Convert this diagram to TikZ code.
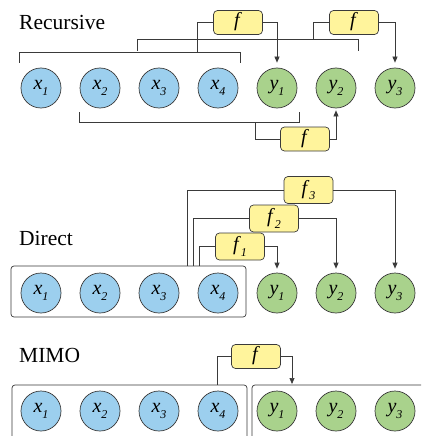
\documentclass[tikz,border=0pt]{standalone}
\usepackage{fontspec}
\setmainfont{Liberation Serif}
\usetikzlibrary{arrows.meta}
\definecolor{cblue}{HTML}{9CCFEE}
\definecolor{cgreen}{HTML}{A9D28C}
\definecolor{cyellow}{HTML}{FFF49C}
\definecolor{cline}{HTML}{3A3A3A}
\newcommand\clab[2]{\fontsize{20}{20}\selectfont\textit{#1}\raisebox{-0.6ex}{\fontsize{12}{12}\selectfont\textit{#2}}}
\newcommand\flab[1]{\fontsize{20}{20}\selectfont\textit{f}\raisebox{-0.6ex}{\fontsize{12}{12}\selectfont\textit{#1}}}
\begin{document}
\begin{tikzpicture}[x=1pt,y=-1pt,
  xin/.style={circle,draw=cline,line width=0.7pt,fill=cblue,minimum size=40pt,inner sep=0pt},
  yout/.style={circle,draw=cline,line width=0.7pt,fill=cgreen,minimum size=40pt,inner sep=0pt},
  fbox/.style={rectangle,rounded corners=4pt,draw=cline,line width=0.7pt,fill=cyellow,minimum width=49pt,minimum height=24pt,inner sep=0pt},
  fboxd/.style={fbox,minimum height=27pt},
  conn/.style={draw=cline,line width=0.7pt},
  arr/.style={conn,-{Triangle[length=6pt,width=5pt]}},
  title/.style={anchor=west,inner sep=0pt,font=\fontsize{21.5}{21.5}\selectfont},
  grp/.style={draw=cline,line width=0.7pt,rounded corners=3pt}]
\clip (0,0) rectangle (421,436);
% ---------- Recursive ----------
\node[title] (tr) at (19,22) {Recursive};
\foreach \i/\xx in {1/41,2/100,3/159,4/218}{\node[xin] (rx\i) at (\xx,88) {\clab{x}{\i}};}
\foreach \i/\xx in {1/277,2/336,3/395}{\node[yout] (ry\i) at (\xx,88) {\clab{y}{\i}};}
\node[fbox] (rfa) at (238,22.5) {\flab{}};
\node[fbox] (rfb) at (354,22.5) {\flab{}};
\node[fbox] (rfc) at (305,139) {\flab{}};
% bracket 1
\coordinate (b1a) at (19,63); \coordinate (b1b) at (240,63); \coordinate (b1m) at (197,52);
\draw[conn] (b1a) -- (19,52) -- (240,52) -- (b1b);
\draw[conn] (b1m) |- (rfa.west);
\draw[arr] (rfa.east) -| ([yshift=5pt]ry1.north);
% bracket 2
\coordinate (b2a) at (137,51); \coordinate (b2b) at (358,51); \coordinate (b2m) at (313,39);
\draw[conn] (b2a) -- (137,39) -- (358,39) -- (b2b);
\draw[conn] (b2m) |- (rfb.west);
\draw[arr] (rfb.east) -| ([yshift=5pt]ry3.north);
% bracket 3
\coordinate (b3a) at (79,112); \coordinate (b3b) at (299,112); \coordinate (b3m) at (255,122);
\draw[conn] (b3a) -- (79,122) -- (299,122) -- (b3b);
\draw[conn] (b3m) |- (rfc.west);
\draw[arr] (rfc.east) -| ([yshift=-2pt]ry2.south);
% ---------- Direct ----------
\node[title] (td) at (19,238) {Direct};
\draw[grp] (11,266) rectangle (246,317);
\coordinate (dtop3) at (187,266); \coordinate (dtop2) at (193,266); \coordinate (dtop1) at (199,266);
\foreach \i/\xx in {1/41,2/100,3/159,4/218}{\node[xin] (dx\i) at (\xx,293) {\clab{x}{\i}};}
\foreach \i/\xx in {1/277,2/336,3/395}{\node[yout] (dy\i) at (\xx,293) {\clab{y}{\i}};}
\node[fboxd] (df1) at (240,246.5) {\flab{1}};
\node[fboxd] (df2) at (274,218.5) {\flab{2}};
\node[fboxd] (df3) at (308.5,190) {\flab{3}};
\draw[conn] (dtop1) |- (df1.west);
\draw[conn] (dtop2) |- (df2.west);
\draw[conn] (dtop3) |- (df3.west);
\draw[arr] (df1.east) -| ([yshift=4pt]dy1.north);
\draw[arr] (df2.east) -| ([yshift=4pt]dy2.north);
\draw[arr] (df3.east) -| ([yshift=4pt]dy3.north);
% ---------- MIMO ----------
\node[title] (tm) at (19,355) {MIMO};
\draw[grp] (12,385) rectangle (247,470);
\draw[grp] (252,385) rectangle (450,470);
\foreach \i/\xx in {1/41,2/100,3/159,4/218}{\node[xin] (mx\i) at (\xx,411) {\clab{x}{\i}};}
\foreach \i/\xx in {1/277,2/336,3/395}{\node[yout] (my\i) at (\xx,411) {\clab{y}{\i}};}
\node[fbox] (mf) at (256,356.5) {\flab{}};
\coordinate (mtop) at (217,385); \coordinate (mdst) at (292,384);
\draw[conn] (mtop) |- (mf.west);
\draw[arr] (mf.east) -| (mdst);
\end{tikzpicture}
\end{document}
